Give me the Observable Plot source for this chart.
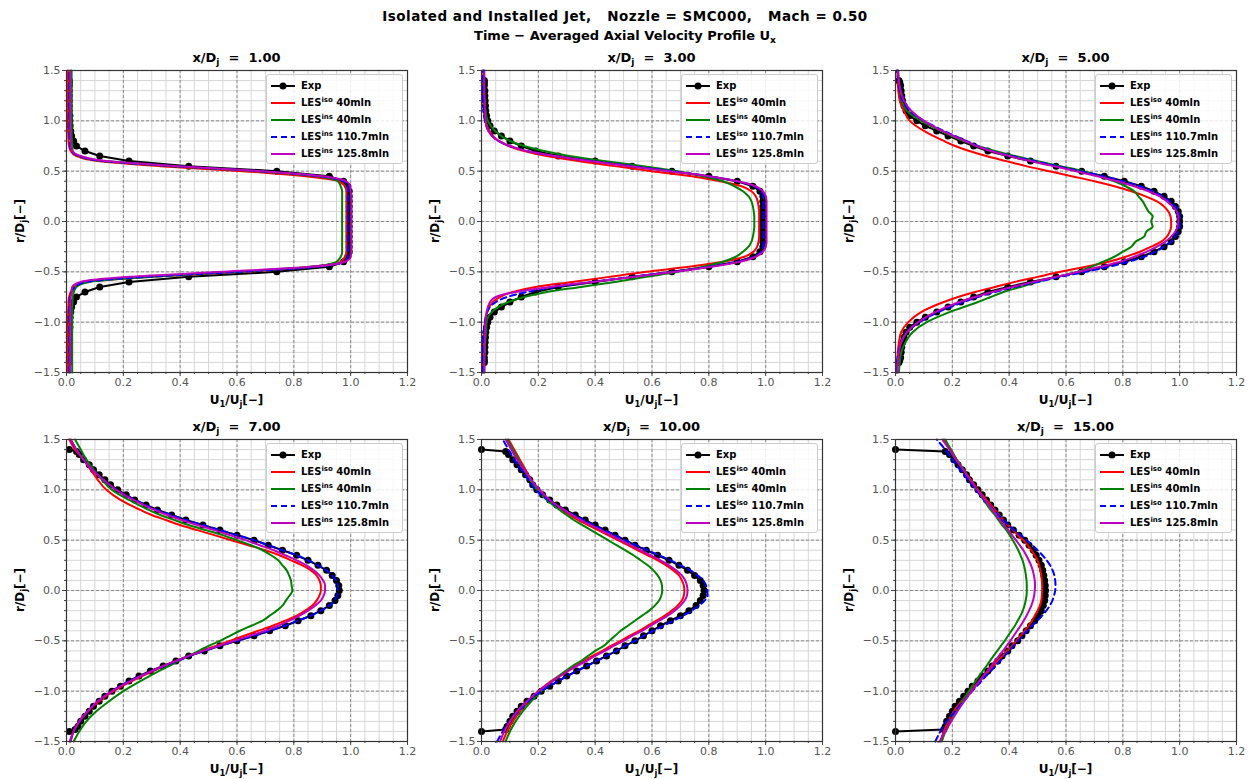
<!DOCTYPE html>
<html><head><meta charset="utf-8">
<script src="https://cdn.jsdelivr.net/npm/d3@7"></script>
<script src="https://cdn.jsdelivr.net/npm/@observablehq/plot@0.6"></script>
<style>
body{margin:0;background:#fff;font-family:"DejaVu Sans",sans-serif;}
#root{position:relative;width:1249px;height:779px;overflow:hidden;background:#fff;}
.ttl{position:absolute;font-weight:bold;color:#000;white-space:nowrap;transform:translate(-50%,-50%);line-height:1;}
.ttl sub{font-size:70%;vertical-align:-3px;line-height:0;}
.lg{position:absolute;background:rgba(255,255,255,0.85);border:1px solid #cccccc;border-radius:3px;box-sizing:border-box;}
.lgt{position:absolute;font-size:10px;font-weight:bold;color:#000;white-space:nowrap;transform:translateY(-50%);line-height:1;}
.lgt sup{font-size:7px;vertical-align:4px;line-height:0;}
.lgs{position:absolute;transform:translateY(-50%);}
</style></head><body><div id="root"></div>
<script>
// ---- data ----
const stations = [1, 3, 5, 7, 10, 15];
const sup110 = ["ins", "iso", "ins", "iso", "iso", "iso"];
const xTicks = [0, 0.2, 0.4, 0.6, 0.8, 1.0, 1.2];
const yTicks = [-1.5, -1.0, -0.5, 0, 0.5, 1.0, 1.5];

// radial grid for LES profiles
const R = [-1.5,-1.4,-1.3,-1.2,-1.1,-1.0,-0.9,-0.8,
  -0.75,-0.7,-0.65,-0.6,-0.55,-0.5,-0.45,-0.4,
  -0.35,-0.3,-0.25,-0.2,-0.15,-0.1,-0.05,0,
  0.05,0.1,0.15,0.2,0.25,0.3,0.35,0.4,
  0.45,0.5,0.55,0.6,0.65,0.7,0.75,
  0.8,0.9,1.0,1.1,1.2,1.3,1.4,1.5];
// radial positions of experimental points
const ER = [-1.4,-1.38,-1.35,-1.3,-1.25,-1.2,-1.15,-1.1,-1.05,-1.0,
  -0.95,-0.9,-0.85,-0.8,-0.75,-0.7,-0.65,-0.6,-0.55,-0.5,
  -0.45,-0.4,-0.35,-0.3,-0.25,-0.2,-0.15,-0.1,-0.05,0,
  0.05,0.1,0.15,0.2,0.25,0.3,0.35,0.4,0.45,0.5,
  0.55,0.6,0.65,0.7,0.75,0.8,0.85,0.9,0.95,1.0,
  1.05,1.1,1.15,1.2,1.25,1.3,1.35,1.38,1.4];

const exp1 = [.01,.01,.01,.01,.01,.01,.01,.01,.012,.012,
  .013,.015,.018,.025,.035,.065,.117,.22,.43,.74,
  .925,.975,.99,.995,.995,.995,.995,.995,.995,.995,
  .995,.995,.995,.995,.995,.995,.99,.975,.925,.74,
  .43,.22,.117,.065,.035,.025,.018,.015,.013,.012,
  .012,.01,.01,.01,.01,.01,.01,.01,.01];
const exp2 = [.01,.01,.01,.012,.012,.013,.014,.015,.018,.022,
  .03,.045,.07,.1,.14,.19,.27,.4,.53,.67,
  .8,.9,.955,.98,.99,.99,.99,.99,.99,.99,
  .99,.99,.99,.99,.99,.98,.955,.9,.8,.67,
  .53,.4,.27,.19,.14,.1,.07,.045,.03,.022,
  .018,.015,.014,.013,.012,.012,.01,.01,.01];
const exp3 = [.012,.015,.018,.02,.022,.025,.03,.037,.05,.075,
  .105,.145,.185,.23,.275,.325,.395,.475,.565,.655,
  .735,.805,.865,.91,.945,.97,.985,.995,1.0,1.0,
  1.0,.995,.985,.97,.945,.91,.865,.805,.735,.655,
  .565,.475,.395,.325,.275,.23,.185,.145,.105,.075,
  .05,.037,.03,.025,.022,.02,.018,.015,.012];
const exp4 = [.01,.03,.04,.05,.065,.08,.095,.115,.135,.16,
  .19,.22,.255,.295,.34,.385,.43,.485,.54,.6,
  .66,.715,.77,.815,.86,.895,.925,.945,.955,.96,
  .958,.95,.935,.915,.885,.85,.81,.76,.71,.66,
  .6,.54,.48,.42,.37,.32,.28,.24,.21,.18,
  .155,.135,.115,.095,.08,.06,.045,.035,.01];
const exp5 = [0,.085,.09,.1,.11,.125,.14,.16,.185,.21,
  .24,.27,.3,.335,.37,.405,.44,.475,.505,.54,
  .57,.6,.63,.665,.7,.73,.755,.77,.78,.783,
  .78,.77,.75,.725,.695,.66,.62,.58,.54,.505,
  .47,.435,.4,.365,.33,.295,.265,.24,.215,.195,
  .18,.17,.155,.14,.125,.11,.095,.085,0];
const exp6 = [0,.17,.175,.18,.19,.2,.21,.225,.24,.255,
  .27,.29,.305,.325,.34,.36,.375,.395,.41,.43,
  .445,.46,.475,.49,.503,.513,.52,.525,.527,.528,
  .527,.525,.522,.518,.513,.505,.495,.485,.47,.455,
  .435,.415,.395,.38,.365,.35,.335,.32,.305,.29,
  .275,.26,.25,.235,.22,.205,.19,.175,0];

// LES iso 40mln (red)
const iso40_1 = [.005,.005,.005,.005,.005,.006,.006,.007, .009,.015,.025,.07,.3,.62,.86,.965, .98,.985,.985,.985,.985,.985,.985,.985, .985,.985,.985,.985,.985,.985,.98,.96, .84,.62,.33,.11,.035,.015,.009, .007,.006,.006,.005,.005,.005,.005,.005];
const iso40_2 = [.006,.006,.007,.008,.01,.012,.02,.04, .065,.11,.19,.32,.45,.58,.73,.85, .925,.957,.97,.975,.977,.977,.977,.977, .977,.977,.975,.972,.965,.95,.915,.84, .74,.6,.47,.34,.23,.15,.095, .06,.028,.014,.01,.008,.007,.006,.006];
const iso40_3 = [.005,.006,.008,.012,.02,.045,.09,.17, .22,.28,.35,.42,.5,.58,.67,.75, .81,.86,.9,.935,.955,.965,.97,.97, .968,.96,.945,.92,.88,.83,.77,.7, .62,.54,.46,.39,.32,.26,.21, .17,.1,.05,.03,.015,.01,.008,.006];
const iso40_4 = [.015,.025,.045,.075,.115,.165,.23,.305, .345,.385,.43,.475,.525,.575,.625,.675, .725,.77,.81,.84,.865,.88,.89,.895, .895,.89,.88,.86,.83,.79,.75,.7, .64,.58,.52,.46,.4,.35,.3, .26,.19,.14,.11,.085,.06,.03,.01];
const iso40_5 = [.075,.09,.11,.135,.165,.2,.245,.3, .33,.36,.39,.425,.455,.49,.52,.555, .585,.615,.645,.67,.69,.705,.712,.714, .712,.705,.695,.675,.65,.62,.585,.55, .515,.48,.445,.41,.375,.34,.31, .285,.235,.2,.175,.155,.135,.115,.095];
const iso40_6 = [.158,.17,.185,.205,.232,.263,.295,.328, .345,.36,.377,.393,.41,.425,.44,.455, .468,.48,.49,.5,.508,.513,.515,.516, .516,.515,.513,.51,.506,.5,.49,.478, .465,.45,.43,.415,.395,.38,.365, .35,.32,.29,.265,.24,.215,.195,.17];

// LES ins 40mln (green)
const ins40_1 = [.02,.02,.02,.02,.02,.02,.02,.021, .022,.026,.035,.08,.3,.6,.86,.95, .965,.97,.97,.97,.97,.97,.97,.97, .97,.97,.97,.97,.97,.97,.965,.955, .88,.67,.37,.13,.045,.022,.02, .019,.018,.018,.018,.018,.018,.018,.018];
const ins40_2 = [.01,.01,.012,.013,.016,.018,.036,.095, .15,.23,.35,.47,.58,.69,.78,.85, .895,.92,.94,.95,.955,.958,.96,.96, .96,.958,.955,.95,.94,.92,.89,.85, .78,.69,.57,.43,.31,.22,.15, .1,.048,.022,.014,.011,.01,.009,.009];
const ins40_3 = [.012,.015,.02,.035,.06,.11,.19,.29, .335,.38,.44,.5,.57,.64,.69,.73, .77,.8,.83,.845,.875,.883,.905,.9, .905,.89,.88,.87,.855,.84,.81,.77, .72,.66,.58,.5,.42,.35,.29, .24,.16,.09,.04,.022,.015,.011,.01];
const ins40_4 = [.025,.045,.07,.105,.15,.2,.26,.325, .36,.395,.43,.465,.5,.54,.575,.61, .65,.69,.715,.74,.76,.772,.785,.795, .792,.79,.783,.775,.76,.745,.72,.69, .65,.6,.55,.49,.43,.38,.33, .29,.22,.16,.125,.095,.07,.05,.03];
const ins40_5 = [.085,.1,.12,.145,.175,.21,.25,.295, .32,.35,.375,.4,.43,.45,.47,.49, .515,.54,.565,.59,.61,.625,.633,.636, .635,.63,.62,.605,.585,.56,.535,.505, .475,.445,.415,.385,.355,.325,.3, .275,.23,.195,.17,.15,.13,.11,.09];
const ins40_6 = [.163,.176,.193,.213,.235,.258,.282,.307, .32,.332,.345,.358,.371,.384,.396,.408, .42,.43,.44,.448,.454,.458,.461,.462, .462,.461,.459,.456,.452,.447,.44,.432, .423,.413,.402,.39,.375,.362,.35, .335,.31,.285,.262,.24,.215,.195,.175];

// LES 110.7mln (blue dashed)
const iso110_1 = [.01,.01,.01,.01,.01,.01,.01,.011, .012,.018,.03,.07,.28,.61,.88,.975, .99,.99,.99,.99,.99,.99,.99,.99, .99,.99,.99,.99,.99,.99,.99,.975, .89,.68,.38,.13,.045,.018,.012, .011,.01,.01,.01,.01,.01,.01,.01];
const iso110_2 = [.004,.004,.005,.006,.008,.012,.02,.05, .09,.16,.26,.39,.53,.67,.8,.9, .96,.983,.99,.992,.992,.992,.992,.992, .992,.992,.992,.992,.99,.983,.96,.9, .8,.67,.53,.39,.26,.16,.1, .06,.025,.012,.008,.006,.005,.005,.005];
const iso110_3 = [.004,.006,.01,.02,.04,.085,.15,.24, .29,.35,.42,.5,.58,.67,.75,.82, .875,.915,.945,.97,.985,.995,1.0,1.0, 1.0,.995,.985,.965,.94,.905,.86,.8, .73,.65,.57,.49,.41,.34,.29, .25,.17,.1,.05,.025,.015,.01,.005];
const iso110_4 = [.012,.025,.045,.075,.11,.16,.22,.3, .345,.39,.435,.485,.54,.6,.66,.715, .77,.815,.86,.895,.925,.943,.952,.955, .955,.948,.935,.915,.885,.85,.81,.76, .71,.66,.6,.54,.48,.42,.37, .32,.24,.175,.13,.09,.06,.035,.015];
const iso110_5 = [.055,.075,.1,.13,.165,.21,.27,.335, .37,.405,.44,.475,.505,.54,.57,.605, .64,.675,.71,.74,.765,.785,.795,.795, .79,.78,.76,.735,.7,.665,.625,.585, .545,.505,.47,.43,.395,.36,.325, .29,.235,.19,.165,.14,.115,.095,.075];
const iso110_6 = [.14,.158,.18,.21,.24,.27,.302,.335, .352,.368,.384,.4,.416,.432,.447,.463, .481,.499,.516,.531,.543,.552,.558,.562, .563,.562,.559,.553,.544,.532,.517,.5, .482,.462,.44,.418,.398,.38,.362, .345,.313,.283,.255,.227,.2,.175,.145];

// LES ins 125.8mln (magenta)
const ins125_1 = [.013,.013,.013,.013,.013,.013,.013,.014, .015,.018,.02,.05,.22,.55,.86,.98, 1.0,1.002,1.002,1.002,1.002,1.002,1.002,1.002, 1.002,1.002,1.002,1.002,1.002,1.0,.998,.985, .9,.69,.39,.14,.05,.02,.015, .014,.013,.013,.013,.013,.013,.013,.013];
const ins125_2 = [.01,.01,.01,.011,.012,.014,.018,.03, .05,.12,.24,.39,.54,.68,.81,.91, .965,.99,1.0,1.003,1.003,1.003,1.003,1.003, 1.003,1.003,1.003,1.003,1.0,.99,.965,.9, .8,.66,.52,.38,.26,.16,.1, .06,.024,.014,.012,.011,.01,.01,.01];
const ins125_3 = [.006,.008,.012,.02,.04,.08,.14,.225, .28,.34,.41,.485,.565,.645,.72,.79, .84,.885,.92,.95,.97,.985,.993,.995, .995,.99,.975,.955,.93,.89,.84,.78, .71,.635,.555,.475,.4,.335,.285, .245,.165,.1,.055,.03,.018,.012,.008];
const ins125_4 = [.013,.025,.045,.075,.11,.16,.225,.3, .34,.385,.43,.48,.535,.59,.645,.7, .745,.785,.82,.85,.875,.895,.905,.91, .91,.903,.89,.87,.845,.81,.77,.73, .68,.63,.575,.52,.46,.405,.355, .31,.235,.175,.13,.09,.06,.035,.015];
const ins125_5 = [.065,.08,.1,.125,.16,.2,.25,.305, .335,.37,.4,.435,.465,.5,.53,.565, .595,.625,.655,.68,.7,.715,.723,.725, .723,.717,.705,.685,.66,.63,.595,.56, .525,.49,.455,.42,.385,.35,.32, .29,.24,.205,.175,.15,.125,.105,.085];
const ins125_6 = [.155,.175,.196,.218,.242,.268,.295,.323, .337,.35,.364,.378,.391,.404,.416,.428, .44,.451,.461,.47,.478,.484,.488,.49, .491,.49,.487,.483,.477,.469,.46,.45, .437,.424,.41,.397,.382,.368,.355, .342,.315,.288,.262,.238,.213,.19,.165];

const expU = [exp1, exp2, exp3, exp4, exp5, exp6];
const iso40 = [iso40_1, iso40_2, iso40_3, iso40_4, iso40_5, iso40_6];
const ins40 = [ins40_1, ins40_2, ins40_3, ins40_4, ins40_5, ins40_6];
const iso110 = [iso110_1, iso110_2, iso110_3, iso110_4, iso110_5, iso110_6];
const ins125 = [ins125_1, ins125_2, ins125_3, ins125_4, ins125_5, ins125_6];

// ---- layout ----
const root = document.getElementById("root");
const colLeft = [66, 481, 895];
const rowTop = [70, 439];
const PW = 341, PH = 302;
const ML = 50, MR = 9, MT = 8, MB = 30;
const xMinor = d3.range(0, 1.2001, 0.05);
const yMinor = d3.range(-1.5, 1.5001, 0.1);
const fmt = d3.format(".1f");

function addText(html, x, y, size, rotate, spacing) {
  const d = document.createElement("div");
  d.className = "ttl";
  d.style.left = x + "px";
  d.style.top = y + "px";
  d.style.fontSize = size + "px";
  if (spacing) d.style.letterSpacing = spacing + "px";
  if (rotate) d.style.transform = "translate(-50%,-50%) rotate(-90deg)";
  d.innerHTML = html;
  root.appendChild(d);
}

addText("Isolated and Installed Jet,&nbsp;&nbsp; Nozzle = SMC000,&nbsp;&nbsp; Mach = 0.50", 625, 17, 13.5, false, 0.5);
addText("Time − Averaged Axial Velocity Profile U<sub>x</sub>", 625, 35, 13);

const styles = [
  {key: "iso40", color: "#ff0000", dash: null},
  {key: "ins40", color: "#008000", dash: null},
  {key: "iso110", color: "#0000ff", dash: "6,4"},
  {key: "ins125", color: "#bf00bf", dash: null}
];
const seriesData = {iso40, ins40, iso110, ins125};

for (let k = 0; k < 6; k++) {
  const row = Math.floor(k / 3), col = k % 3;
  const pl = colLeft[col], pt = rowTop[row];
  const expData = ER.map((r, i) => ({r, u: expU[k][i]}));
  const lineMarks = styles.map(s => Plot.line(
    R.map((r, i) => ({r, u: seriesData[s.key][k][i]})),
    {x: "u", y: "r", stroke: s.color, strokeWidth: 2, curve: "monotone-y",
     strokeDasharray: s.dash || undefined}));
  const svg = Plot.plot({
    width: ML + PW + MR, height: MT + PH + MB,
    marginLeft: ML, marginRight: MR, marginTop: MT, marginBottom: MB,
    x: {domain: [0, 1.2], axis: null},
    y: {domain: [-1.5, 1.5], axis: null},
    style: {background: "transparent", fontFamily: "DejaVu Sans", fontSize: "11px", color: "#444", overflow: "visible"},
    marks: [
      Plot.gridX(xMinor, {stroke: "#d6d6d6", strokeOpacity: 1, strokeWidth: 1}),
      Plot.gridY(yMinor, {stroke: "#d6d6d6", strokeOpacity: 1, strokeWidth: 1}),
      Plot.gridX(xTicks, {stroke: "#8a8a8a", strokeOpacity: 1, strokeWidth: 1, strokeDasharray: "3,2"}),
      Plot.gridY(yTicks, {stroke: "#8a8a8a", strokeOpacity: 1, strokeWidth: 1, strokeDasharray: "3,2"}),
      Plot.axisX(xMinor, {tickSize: 2, tickFormat: () => "", label: null, stroke: "#444"}),
      Plot.axisY(yMinor, {tickSize: 2, tickFormat: () => "", label: null, stroke: "#444"}),
      Plot.axisX(xTicks, {tickSize: 4, tickPadding: 2, tickFormat: fmt, label: null, stroke: "#444", fill: "#555"}),
      Plot.axisY(yTicks, {tickSize: 4, tickPadding: 2, tickFormat: fmt, label: null, stroke: "#444", fill: "#555"}),
      Plot.line(expData, {x: "u", y: "r", stroke: "#000", strokeWidth: 2}),
      Plot.dot(expData, {x: "u", y: "r", r: 3.5, fill: "#000", stroke: "none"}),
      ...lineMarks,
      Plot.frame({stroke: "#333", strokeWidth: 1.2})
    ]
  });
  svg.style.position = "absolute";
  svg.style.left = (pl - ML) + "px";
  svg.style.top = (pt - MT) + "px";
  root.appendChild(svg);

  const st = stations[k].toFixed(2);
  addText("x/D<sub>j</sub> &nbsp;= &nbsp;" + st, pl + PW / 2, pt - 13, 13);
  addText("U<sub>1</sub>/U<sub>j</sub>[−]", pl + PW / 2, pt + PH + 28, 12);
  addText("r/D<sub>j</sub>[−]", pl - 46, pt + PH / 2, 12, true);

  // legend
  const lg = document.createElement("div");
  lg.className = "lg";
  lg.style.left = (pl + 200) + "px";
  lg.style.top = (pt + 4) + "px";
  lg.style.width = "137px";
  lg.style.height = "90px";
  const entries = [
    {html: "Exp", color: "#000", dash: null, marker: true},
    {html: "LES<sup>iso</sup> 40mln", color: "#ff0000", dash: null},
    {html: "LES<sup>ins</sup> 40mln", color: "#008000", dash: null},
    {html: "LES<sup>" + sup110[k] + "</sup> 110.7mln", color: "#0000ff", dash: "6,4"},
    {html: "LES<sup>ins</sup> 125.8mln", color: "#bf00bf", dash: null}
  ];
  entries.forEach((e, i) => {
    const cy = 11 + i * 17;
    const s = document.createElementNS("http://www.w3.org/2000/svg", "svg");
    s.setAttribute("width", 26); s.setAttribute("height", 10);
    s.setAttribute("class", "lgs");
    s.style.left = "3px"; s.style.top = cy + "px";
    s.innerHTML = `<line x1="1" x2="25" y1="5" y2="5" stroke="${e.color}" stroke-width="2" ${e.dash ? `stroke-dasharray="${e.dash}"` : ""}/>` +
      (e.marker ? `<circle cx="13" cy="5" r="3.5" fill="${e.color}"/>` : "");
    lg.appendChild(s);
    const t = document.createElement("div");
    t.className = "lgt";
    t.style.left = "34px"; t.style.top = cy + "px";
    t.innerHTML = e.html;
    lg.appendChild(t);
  });
  root.appendChild(lg);
}
</script></body></html>
